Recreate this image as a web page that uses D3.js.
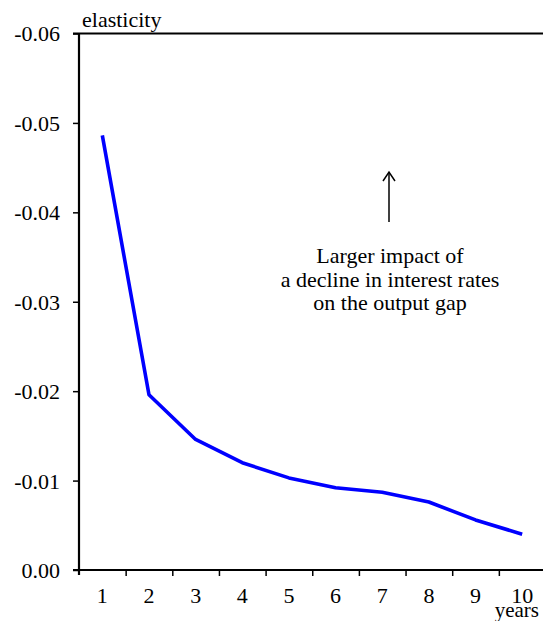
<!DOCTYPE html>
<html>
<head>
<meta charset="utf-8">
<style>
  body { margin: 0; background: #fff; }
  text { font-family: 'Liberation Serif', 'Times New Roman', serif; fill: #000; }
</style>
<script src="https://d3js.org/d3.v7.min.js"></script>
</head>
<body>
<svg width="543" height="621"></svg>
<script>
// years after the change in rates
var years = [1, 2, 3, 4, 5, 6, 7, 8, 9, 10];
// elasticity of the output gap
var elasticity = [-0.0486, -0.0196, -0.0146, -0.0120, -0.0103, -0.0092, -0.0087, -0.0076, -0.0056, -0.0040];
var yTicks = [0, -0.01, -0.02, -0.03, -0.04, -0.05, -0.06];
var yTickLabels = ["0.00", "-0.01", "-0.02", "-0.03", "-0.04", "-0.05", "-0.06"];
var note = ["Larger impact of", "a decline in interest rates", "on the output gap"];

var svg = d3.select("svg");
var plotLeft = 79, plotRight = 545.5, plotTop = 33.5, plotBottom = 570;

var x = d3.scaleLinear().domain([0.5, 10.5]).range([plotLeft, plotRight]);
var y = d3.scaleLinear().domain([0, -0.06]).range([plotBottom, plotTop]);

// y axis
var yAxis = svg.append("g")
  .attr("transform", "translate(" + plotLeft + ",0)")
  .call(d3.axisLeft(y).tickValues(yTicks).tickSize(6).tickPadding(13)
    .tickFormat(function (d, i) { return yTickLabels[i]; }));
yAxis.attr("font-family", null);
yAxis.select(".domain").remove();
yAxis.selectAll("line").attr("stroke", "#000").attr("stroke-width", 1.5);
yAxis.selectAll("text").style("font-size", "22px").attr("dy", "0.34em");

svg.append("line")
  .attr("x1", plotLeft).attr("x2", plotLeft)
  .attr("y1", plotTop).attr("y2", plotBottom + 5)
  .attr("stroke", "#000").attr("stroke-width", 2.2);

// top border
svg.append("line")
  .attr("x1", plotLeft - 6).attr("x2", 543)
  .attr("y1", plotTop).attr("y2", plotTop)
  .attr("stroke", "#000").attr("stroke-width", 2);

// x axis: ticks between years, labels at year centres
var boundaries = d3.range(1.5, 10, 1);
var xAxis = svg.append("g")
  .attr("transform", "translate(0," + plotBottom + ")")
  .call(d3.axisBottom(x).tickValues(boundaries).tickSize(6).tickFormat(""));
xAxis.select(".domain").remove();
xAxis.selectAll("line").attr("stroke", "#000").attr("stroke-width", 1.5);

svg.append("line")
  .attr("x1", plotLeft - 6).attr("x2", 543)
  .attr("y1", plotBottom).attr("y2", plotBottom)
  .attr("stroke", "#000").attr("stroke-width", 2.2);

svg.append("g").selectAll("text")
  .data(years)
  .enter().append("text")
  .attr("x", function (d) { return x(d); })
  .attr("y", 603)
  .attr("text-anchor", "middle")
  .style("font-size", "22px")
  .text(function (d) { return d; });

svg.append("text")
  .attr("x", 539).attr("y", 617)
  .attr("text-anchor", "end")
  .style("font-size", "21px")
  .text("years");

svg.append("text")
  .attr("x", 82).attr("y", 27)
  .style("font-size", "22px")
  .text("elasticity");

// the line
var line = d3.line()
  .x(function (d, i) { return x(years[i]); })
  .y(function (d) { return y(d); });

svg.append("path")
  .datum(elasticity)
  .attr("d", line)
  .attr("fill", "none")
  .attr("stroke", "#0000ff")
  .attr("stroke-width", 3.6)
  .attr("stroke-linejoin", "round");

// annotation arrow and text
svg.append("line")
  .attr("x1", 389).attr("x2", 389)
  .attr("y1", 222).attr("y2", 173)
  .attr("stroke", "#000").attr("stroke-width", 1.5);
svg.append("path")
  .attr("d", "M383,181 L389,172 L395,181")
  .attr("fill", "none").attr("stroke", "#000").attr("stroke-width", 1.5);

svg.append("g").selectAll("text")
  .data(note)
  .enter().append("text")
  .attr("x", 390)
  .attr("y", function (d, i) { return 263 + i * 23.5; })
  .attr("text-anchor", "middle")
  .style("font-size", "22px")
  .text(function (d) { return d; });
</script>
</body>
</html>
